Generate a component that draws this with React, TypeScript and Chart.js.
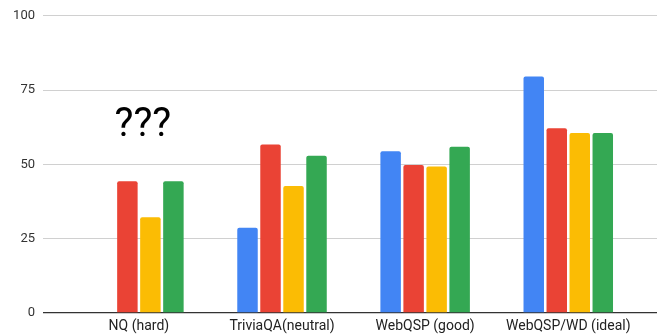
import React, { useEffect, useRef } from "react";
import { Chart, registerables } from "chart.js";

Chart.register(...registerables);

const categories = ["NQ (hard)", "TriviaQA(neutral)", "WebQSP (good)", "WebQSP/WD (ideal)"];
const seriesBlue = [null, 28.7, 54.4, 79.6];
const seriesRed = [44.3, 56.7, 49.8, 62.2];
const seriesYellow = [32.2, 42.7, 49.3, 60.6];
const seriesGreen = [44.3, 52.9, 55.9, 60.6];
const yTicks = [0, 25, 50, 75, 100];
const annotationText = "???";
const annotationValue = 63;

const FONT = "Roboto, Arial, 'Liberation Sans', sans-serif";

const annotationPlugin = {
  id: "qmarks",
  afterDatasetsDraw(chart: any) {
    const { ctx, scales } = chart;
    const x = scales.x.getPixelForValue(0) + 4;
    const y = scales.y.getPixelForValue(annotationValue);
    ctx.save();
    ctx.font = `40px ${FONT}`;
    ctx.fillStyle = "#000";
    ctx.textAlign = "center";
    ctx.textBaseline = "middle";
    ctx.fillText(annotationText, x, y);
    ctx.restore();
  },
};

export default function App() {
  const ref = useRef<HTMLCanvasElement>(null);
  useEffect(() => {
    if (!ref.current) return;
    const chart = new Chart(ref.current, {
      type: "bar",
      data: {
        labels: categories,
        datasets: [
          { label: "Blue", data: seriesBlue, backgroundColor: "#4285F4" },
          { label: "Red", data: seriesRed, backgroundColor: "#EA4335" },
          { label: "Yellow", data: seriesYellow, backgroundColor: "#FBBC04" },
          { label: "Green", data: seriesGreen, backgroundColor: "#34A853" },
        ] as any,
      },
      options: {
        animation: false,
        responsive: true,
        maintainAspectRatio: false,
        layout: { padding: { top: 8, right: 0, left: 0, bottom: 0 } },
        datasets: {
          bar: {
            categoryPercentage: 0.643,
            barPercentage: 0.89,
            borderRadius: { topLeft: 2, topRight: 2, bottomLeft: 0, bottomRight: 0 },
            borderSkipped: "bottom",
          },
        } as any,
        plugins: {
          legend: { display: false },
          tooltip: { enabled: false },
        },
        scales: {
          x: {
            grid: { display: false, drawTicks: false },
            border: { display: false },
            ticks: {
              color: "#222",
              font: { family: FONT, size: 14 },
              padding: 5,
              maxRotation: 0,
              autoSkip: false,
            },
            afterBuildTicks: (scale: any) => {
              scale._startValue = -0.67;
              scale._valueRange = 4.29;
            },
            afterFit: (scale: any) => {
              scale.height = 21;
            },
          },
          y: {
            min: 0,
            max: 100,
            afterBuildTicks: (scale: any) => {
              scale.ticks = yTicks.map((v) => ({ value: v }));
            },
            grid: {
              drawTicks: false,
              color: (c: any) => (c.tick && c.tick.value === 0 ? "#333" : "#d0d0d0"),
              lineWidth: (c: any) => (c.tick && c.tick.value === 0 ? 1.3 : 1),
            },
            border: { display: false },
            ticks: {
              color: "#333",
              font: { family: FONT, size: 13 },
              padding: 8,
            },
            afterFit: (scale: any) => {
              scale.width = 43;
            },
          },
        },
      },
      plugins: [annotationPlugin],
    });
    return () => chart.destroy();
  }, []);
  return (
    <div style={{ position: "fixed", left: 0, top: 0, width: 657, height: 334, background: "#fff" }}>
      <canvas ref={ref} />
    </div>
  );
}
